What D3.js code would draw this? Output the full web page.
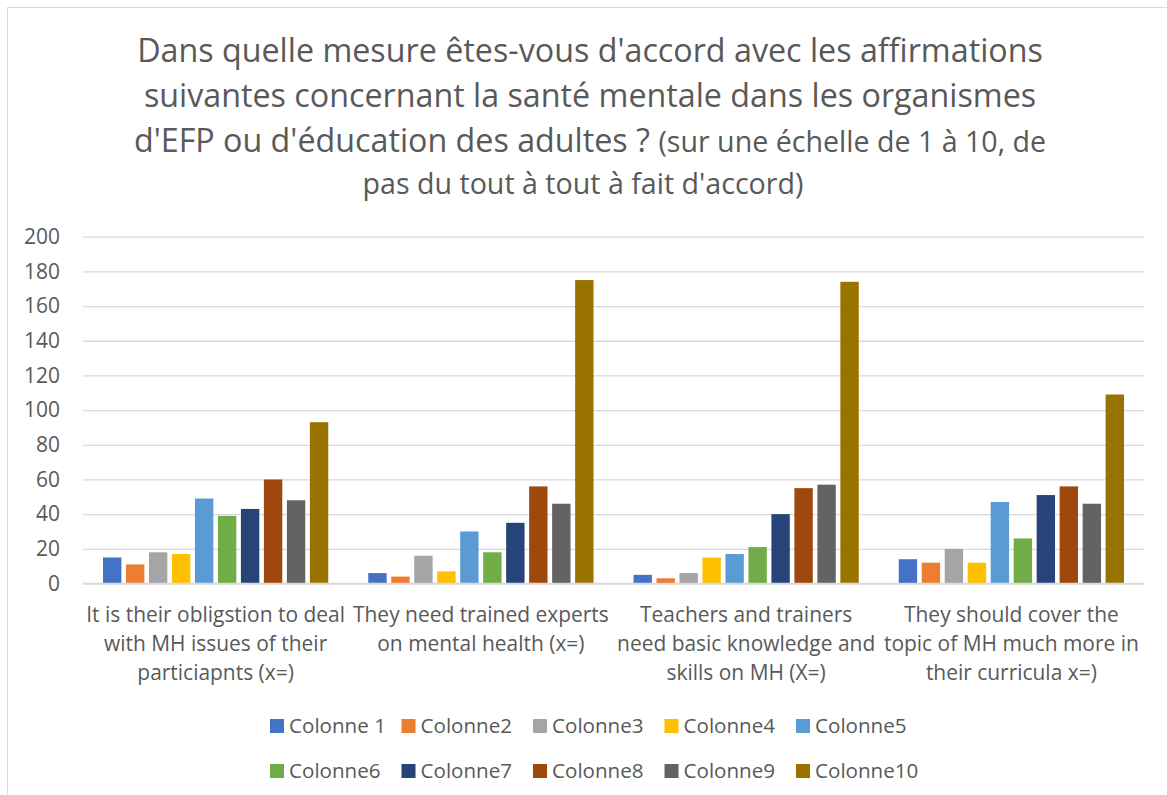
<!DOCTYPE html>
<html>
<head>
<meta charset="utf-8">
<script src="https://cdn.jsdelivr.net/npm/d3@7"></script>
<style>
  html, body { margin: 0; padding: 0; background: #fff; }
  svg { display: block; }
</style>
</head>
<body>
<div id="chart"></div>
<script>
// --- data ---
const categories = [
    ['It is their obligstion to deal', 'with MH issues of their', 'particiapnts (x=)'],
    ['They need trained experts', 'on mental health (x=)'],
    ['Teachers and trainers', 'need basic knowledge and', 'skills on MH (X=)'],
    ['They should cover the', 'topic of MH much more in', 'their curricula x=)'],
];
const seriesNames = ['Colonne 1', 'Colonne2', 'Colonne3', 'Colonne4', 'Colonne5',
    'Colonne6', 'Colonne7', 'Colonne8', 'Colonne9', 'Colonne10'];
const seriesColors = ['#4472C4', '#ED7D31', '#A5A5A5', '#FFC000', '#5B9BD5',
    '#70AD47', '#264478', '#9E480E', '#636363', '#997300'];
// values[series][category]
const values = [
    [15, 6, 5, 14],
    [11, 4, 3, 12],
    [18, 16, 6, 20],
    [17, 7, 15, 12],
    [49, 30, 17, 47],
    [39, 18, 21, 26],
    [43, 35, 40, 51],
    [60, 56, 55, 56],
    [48, 46, 57, 46],
    [93, 175, 174, 109],
];
const yTicks = [0, 20, 40, 60, 80, 100, 120, 140, 160, 180, 200];
const titleLines = [
    'Dans quelle mesure êtes-vous d\'accord avec les affirmations',
    'suivantes concernant la santé mentale dans les organismes',
];
const titleLine3Big = 'd\'EFP ou d\'éducation des adultes ? ';
const titleLine3Small = '(sur une échelle de 1 à 10, de';
const titleLine4 = 'pas du tout à tout à fait d\'accord)';

const W = 1167, H = 795;
const FONT = '"Open Sans", "Noto Sans", sans-serif';
const TEXT_COLOR = '#595959';
const GRID_COLOR = '#d9d9d9';
const plot = { left: 83, right: 1144, top: 236.7, bottom: 583.5 };

const svg = d3.select('#chart').append('svg')
    .attr('width', W)
    .attr('height', H)
    .style('font-family', FONT);

// size a font so a reference string spans the width seen in the picture
function fitSize(str, target) {
    const t = svg.append('text').style('font-size', '100px').text(str);
    const w = t.node().getComputedTextLength();
    t.remove();
    return 100 * target / w;
}

const titleSize = fitSize(titleLines[0], 906);
const titleSmall = fitSize(titleLine4, 441);
const labelSize = fitSize(categories[0][0], 259);
const legendSize = fitSize(seriesNames[0], 97);

// chart border
svg.append('rect')
    .attr('x', 7.5).attr('y', 7.5)
    .attr('width', W + 10).attr('height', H + 10)
    .attr('fill', 'none')
    .attr('stroke', GRID_COLOR);

// title
const title = svg.append('g').attr('fill', TEXT_COLOR);
titleLines.forEach((line, i) => {
    title.append('text')
        .attr('x', 590).attr('y', 62 + i * 45)
        .attr('text-anchor', 'middle')
        .style('font-size', titleSize + 'px')
        .text(line);
});
const t3 = title.append('text')
    .attr('x', 590).attr('y', 152)
    .attr('text-anchor', 'middle');
t3.append('tspan').style('font-size', titleSize + 'px').text(titleLine3Big);
t3.append('tspan').style('font-size', titleSmall + 'px').text(titleLine3Small);
title.append('text')
    .attr('x', 583).attr('y', 194)
    .attr('text-anchor', 'middle')
    .style('font-size', titleSmall + 'px')
    .text(titleLine4);

// scales
const x0 = d3.scaleBand()
    .domain(d3.range(categories.length))
    .range([plot.left, plot.right]);

const x1 = d3.scaleBand()
    .domain(d3.range(seriesNames.length))
    .range([20, x0.bandwidth() - 20])
    .paddingInner(0.2);

const y = d3.scaleLinear()
    .domain([0, 200])
    .range([plot.bottom, plot.top]);

// gridlines + y labels
const yAxis = svg.append('g')
    .attr('transform', `translate(${plot.left},0)`)
    .call(d3.axisLeft(y).tickValues(yTicks).tickSize(-(plot.right - plot.left)).tickPadding(23));
yAxis.select('.domain').remove();
yAxis.selectAll('.tick line').attr('stroke', GRID_COLOR).attr('stroke-width', 1.3);
yAxis.selectAll('.tick text')
    .attr('fill', TEXT_COLOR)
    .style('font-family', FONT)
    .style('font-size', labelSize + 'px');

// bars
const groups = svg.append('g')
    .selectAll('g')
    .data(categories.map((c, ci) => ci))
    .join('g')
    .attr('transform', (ci) => `translate(${x0(ci)},0)`);

groups.selectAll('rect')
    .data((ci) => values.map((s, si) => ({ si, v: s[ci] })))
    .join('rect')
    .attr('x', (d) => x1(d.si))
    .attr('y', (d) => y(d.v))
    .attr('width', x1.bandwidth())
    .attr('height', (d) => y(0) - y(d.v))
    .attr('fill', (d) => seriesColors[d.si]);

// x axis line
svg.append('line')
    .attr('x1', plot.left).attr('x2', plot.right)
    .attr('y1', y(0)).attr('y2', y(0))
    .attr('stroke', GRID_COLOR).attr('stroke-width', 1.3);

// category labels
const xl = svg.append('g').attr('fill', TEXT_COLOR);
categories.forEach((lines, ci) => {
    lines.forEach((line, li) => {
        xl.append('text')
            .attr('x', x0(ci) + x0.bandwidth() / 2)
            .attr('y', 622 + li * 29)
            .attr('text-anchor', 'middle')
            .style('font-size', labelSize + 'px')
            .text(line);
    });
});

// legend, 5 per row
const legend = svg.append('g')
    .selectAll('g')
    .data(seriesNames)
    .join('g')
    .attr('transform', (d, i) => `translate(${270 + (i % 5) * 131.5},${726 + Math.floor(i / 5) * 45})`);

legend.append('rect')
    .attr('x', 0).attr('y', -7)
    .attr('width', 14).attr('height', 14)
    .attr('fill', (d, i) => seriesColors[i]);

legend.append('text')
    .attr('x', 19)
    .attr('dy', '0.35em')
    .attr('fill', TEXT_COLOR)
    .style('font-size', legendSize + 'px')
    .text((d) => d);
</script>
</body>
</html>
